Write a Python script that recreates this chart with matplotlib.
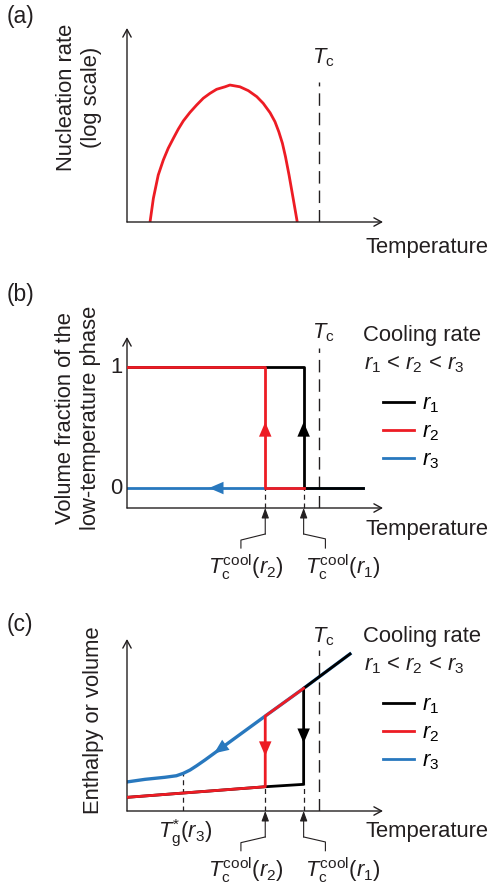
import numpy as np
import matplotlib
matplotlib.use("Agg")
from matplotlib import pyplot as plt

plt.rcParams['font.family'] = ['Liberation Sans', 'DejaVu Sans']
plt.rcParams['mathtext.fontset'] = 'custom'
plt.rcParams['mathtext.rm'] = 'Liberation Sans'
plt.rcParams['mathtext.it'] = 'Liberation Sans:italic'
plt.rcParams['mathtext.bf'] = 'Liberation Sans:bold'

# ---- data (temperature in arbitrary units, 0..10 along the x axis) ----
T_C = 7.5
T_COOL_R1 = 6.9
T_COOL_R2 = 5.4
T_GLASS_R3 = 2.2
T_END = 9.2

# (a) nucleation rate, log scale (arbitrary units)
temp_a = [0.90, 1.03, 1.22, 1.42, 1.61, 1.81, 2.00, 2.20, 2.46, 2.72,
          2.98, 3.24, 3.50, 3.83, 4.02, 4.41, 4.74, 5.07, 5.32, 5.59,
          5.78, 5.93, 6.07, 6.19, 6.33, 6.49, 6.65]
rate_a = [0.0, 1.22, 2.42, 3.20, 3.80, 4.31, 4.78, 5.21, 5.65, 6.03,
          6.38, 6.63, 6.84, 6.97, 7.06, 6.97, 6.77, 6.46, 6.12, 5.63,
          5.17, 4.65, 4.06, 3.37, 2.42, 1.22, 0.0]

# (b) volume fraction of low-temperature phase
r1_temp_b = [0, T_COOL_R1, T_COOL_R1, T_END]
r1_frac_b = [1, 1, 0, 0]
r2_temp_b = [0, T_COOL_R2, T_COOL_R2, T_COOL_R1]
r2_frac_b = [1, 1, 0, 0]
r3_temp_b = [0, T_END]
r3_frac_b = [0, 0]

# (c) enthalpy or volume
glass_temp = [0.05, 0.70, 1.48, 1.93, 2.20, 2.46, 2.72, 3.05, 5.40, 6.90, 8.71]
glass_h = [1.70, 1.84, 1.96, 2.05, 2.19, 2.38, 2.63, 2.97, 5.52, 7.13, 9.13]
cryst_temp = [0.05, 5.40, 6.90]
cryst_h = [0.80, 1.41, 1.55]

RED = '#ED1C24'
BLUE = '#2878BE'
BLACK = '#000000'
DARK = '#231F20'
FS = 15.8

W, H = 491, 886
fig = plt.figure(figsize=(W / 100, H / 100), dpi=100)


def fx(px):
    return px / W


def fy(py):
    return 1 - py / H


def make_axes(y_axis_px, height_px, ylim):
    ax = fig.add_axes([fx(127), fy(y_axis_px), 256 / W, height_px / H])
    ax.set_xlim(0, 10)
    ax.set_ylim(*ylim)
    ax.axis('off')
    y0, y1 = ylim
    arrow = dict(arrowstyle='->,head_length=0.55,head_width=0.3', lw=1.0,
                 color=DARK, shrinkA=0, shrinkB=0)
    ax.annotate('', xy=(0, y1), xytext=(0, y0), arrowprops=arrow,
                annotation_clip=False)
    ax.annotate('', xy=(10, y0), xytext=(0, y0), arrowprops=arrow,
                annotation_clip=False)
    return ax


def head(ax, tip, tail, color):
    ax.annotate('', xy=tip, xytext=tail, annotation_clip=False,
                arrowprops=dict(arrowstyle='-|>,head_length=1.05,head_width=0.45',
                                color=color, lw=0, shrinkA=0, shrinkB=0,
                                mutation_scale=10))


def leader(ax, x, y_axis, tail, kink, end, dx):
    ax.annotate('', xy=(x, y_axis), xytext=(x, tail), annotation_clip=False,
                arrowprops=dict(arrowstyle='-|>,head_length=0.6,head_width=0.22',
                                color=DARK, lw=0.8, shrinkA=0, shrinkB=0))
    ax.plot([x, x + dx, x + dx], [tail, kink, end], color=DARK, lw=0.8,
            clip_on=False)


def tc_label(ax, y):
    ax.text(T_C - 0.28, y, r'$T_{\rm c}$', fontsize=FS, color=DARK,
            ha='left', va='baseline')


def cool_legend(ax, title_base, row1_py):
    fig.text(fx(363), fy(title_base), 'Cooling rate', fontsize=FS,
             color=DARK, ha='left', va='baseline')
    fig.text(fx(364), fy(title_base + 28), r'$r_1$ < $r_2$ < $r_3$',
             fontsize=FS, color=DARK, ha='left', va='baseline')
    handles = [plt.Line2D([], [], color=c, lw=2) for c in (BLACK, RED, BLUE)]
    ax.legend(handles, [r'$r_1$', r'$r_2$', r'$r_3$'], loc='upper left',
              bbox_to_anchor=(fx(383), fy(row1_py - 8.5)),
              bbox_transform=fig.transFigure, frameon=False, borderpad=0,
              borderaxespad=0, handlelength=1.4, handletextpad=0.4,
              labelspacing=0.3, fontsize=FS)


# ---------------- (a) ----------------
axA = make_axes(222, 194, (0, 10))
axA.plot(temp_a, rate_a, color=RED, lw=2.0, solid_capstyle='butt',
         solid_joinstyle='round')
axA.plot([T_C, T_C], [0, 7.2], color=DARK, lw=1.0, dashes=(9, 5))
tc_label(axA, 8.2)
fig.text(fx(7), fy(17), '(a)', fontsize=16.5, color=DARK, va='center')
fig.text(fx(79), fy(97), 'Nucleation rate\n(log scale)', fontsize=FS,
         color=DARK, rotation=90, ha='center', va='center', multialignment='center')
fig.text(fx(365), fy(247), 'Temperature', fontsize=FS, color=DARK,
         ha='left', va='center')

# ---------------- (b) ----------------
yb0 = -0.165
axB = make_axes(508, 171, (yb0, 1.248))
axB.plot(r3_temp_b, r3_frac_b, color=BLUE, lw=2.0, zorder=2)
axB.plot(r1_temp_b, r1_frac_b, color=BLACK, lw=2.0, zorder=3)
axB.plot(r2_temp_b, r2_frac_b, color=RED, lw=2.0, zorder=4)
head(axB, (T_COOL_R2, 0.545), (T_COOL_R2, 0.3), RED)
head(axB, (T_COOL_R1, 0.545), (T_COOL_R1, 0.3), BLACK)
head(axB, (3.2, 0), (4.5, 0), BLUE)
axB.plot([T_C, T_C], [yb0, 1.157], color=DARK, lw=1.0, dashes=(9, 5))
for t in (T_COOL_R2, T_COOL_R1):
    axB.plot([t, t], [yb0, 0], color=DARK, lw=0.9, dashes=(4, 3),
             clip_on=False)
leader(axB, T_COOL_R2, yb0, -0.38, -0.43, -0.496, -0.95)
leader(axB, T_COOL_R1, yb0, -0.38, -0.42, -0.496, 0.85)
axB.text(4.65, -0.653, r'$T_{\rm c}^{\rm cool}(r_2)$', fontsize=FS,
         color=DARK, ha='center', va='center')
axB.text(8.44, -0.653, r'$T_{\rm c}^{\rm cool}(r_1)$', fontsize=FS,
         color=DARK, ha='center', va='center')
axB.text(-0.18, 1, '1', fontsize=FS, color=DARK, ha='right', va='center')
axB.text(-0.18, 0, '0', fontsize=FS, color=DARK, ha='right', va='center')
tc_label(axB, 1.24)
cool_legend(axB, 341, 402)
fig.text(fx(7), fy(295), '(b)', fontsize=16.5, color=DARK, va='center')
fig.text(fx(78), fy(418), 'Volume fraction of the\nlow-temperature phase',
         fontsize=FS, color=DARK, rotation=90, ha='center', va='center',
         multialignment='center')
fig.text(fx(365), fy(530), 'Temperature', fontsize=FS, color=DARK,
         ha='left', va='center')

# ---------------- (c) ----------------
axC = make_axes(811, 172, (0, 10))
r1_temp_c = cryst_temp + [T_COOL_R1, glass_temp[-1]]
r1_h_c = cryst_h + [glass_h[-2], glass_h[-1]]
r2_temp_c = cryst_temp[:2] + [T_COOL_R2, T_COOL_R1]
r2_h_c = cryst_h[:2] + [glass_h[-3], glass_h[-2]]
axC.plot(glass_temp, glass_h, color=BLUE, lw=2.4, zorder=2,
         solid_joinstyle='round')
axC.plot(r1_temp_c, r1_h_c, color=BLACK, lw=2.0, zorder=3)
axC.plot(r2_temp_c, r2_h_c, color=RED, lw=2.0, zorder=4)
head(axC, (T_COOL_R1, 3.95), (T_COOL_R1, 6.0), BLACK)
head(axC, (T_COOL_R2, 3.2), (T_COOL_R2, 5.0), RED)
tip_t = 3.4
head(axC, (tip_t, np.interp(tip_t, glass_temp, glass_h)),
     (4.6, np.interp(4.6, glass_temp, glass_h)), BLUE)
axC.plot([T_C, T_C], [0, 9.36], color=DARK, lw=1.0, dashes=(9, 5))
for t, top in ((T_COOL_R2, np.interp(T_COOL_R2, cryst_temp, cryst_h)),
               (T_COOL_R1, np.interp(T_COOL_R1, cryst_temp, cryst_h)),
               (T_GLASS_R3, np.interp(T_GLASS_R3, glass_temp, glass_h))):
    axC.plot([t, t], [0, top], color=DARK, lw=0.9, dashes=(4, 3), zorder=1)
leader(axC, T_COOL_R2, 0, -1.51, -1.84, -2.31, -0.95)
leader(axC, T_COOL_R1, 0, -1.51, -1.80, -2.31, 0.85)
axC.text(4.65, -3.43, r'$T_{\rm c}^{\rm cool}(r_2)$', fontsize=FS,
         color=DARK, ha='center', va='center')
axC.text(8.44, -3.43, r'$T_{\rm c}^{\rm cool}(r_1)$', fontsize=FS,
         color=DARK, ha='center', va='center')
axC.text(2.27, -1.28, r'$T_{\rm g}^{*}(r_3)$', fontsize=FS,
         color=DARK, ha='center', va='center')
tc_label(axC, 9.83)
cool_legend(axC, 642, 703)
fig.text(fx(7), fy(624), '(c)', fontsize=16.5, color=DARK, va='center')
fig.text(fx(93), fy(720), 'Enthalpy or volume', fontsize=FS, color=DARK,
         rotation=90, ha='center', va='center')
fig.text(fx(365), fy(832), 'Temperature', fontsize=FS, color=DARK,
         ha='left', va='center')

fig.savefig('out.png', dpi=100)
